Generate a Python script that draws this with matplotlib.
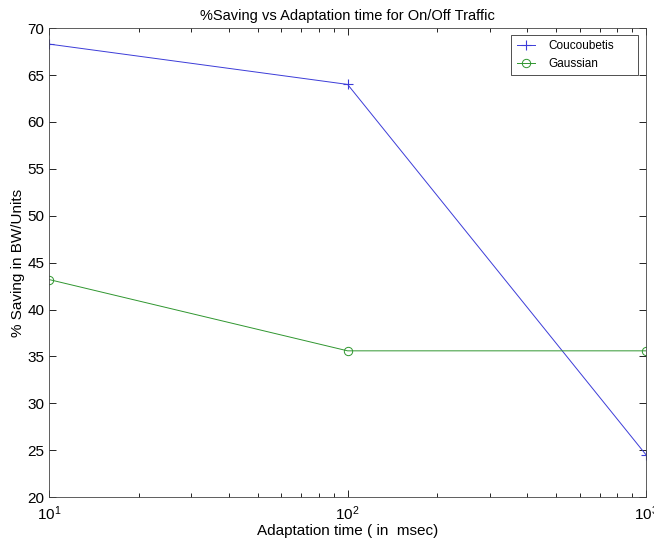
import matplotlib
matplotlib.use("Agg")

import matplotlib.pyplot as plt
from matplotlib.ticker import LogLocator

plt.rcParams["font.family"] = ["Liberation Sans", "DejaVu Sans"]
plt.rcParams["mathtext.fontset"] = "custom"
plt.rcParams["mathtext.rm"] = "Liberation Sans"
plt.rcParams["mathtext.it"] = "Liberation Sans"

# data
adapt_time = [10, 100, 1000]
coucoubetis = [68.3, 64.0, 24.5]
gaussian = [43.2, 35.6, 35.6]

fig = plt.figure(figsize=(6.54, 5.41), dpi=100)
ax = fig.add_axes([0.075, 0.081, 0.913, 0.867])

ax.plot(adapt_time, coucoubetis, color="#3c3cd8", marker="+", markersize=7,
        linewidth=0.7, markeredgewidth=0.8, label="Coucoubetis")
ax.plot(adapt_time, gaussian, color="#2f962f", marker="o", markersize=6,
        linewidth=0.7, markerfacecolor="none", markeredgewidth=0.7, label="Gaussian")

ax.set_xscale("log")
ax.set_xlim(10, 1000)
ax.set_ylim(20, 70)
ax.set_yticks(range(20, 71, 5))
ax.xaxis.set_minor_locator(LogLocator(base=10, subs=range(2, 10)))

ax.tick_params(which="both", direction="in", top=True, right=True, labelsize=11)
ax.tick_params(axis="x", pad=5)
ax.tick_params(which="major", length=5, width=0.6)
ax.tick_params(which="minor", length=3, width=0.6)
for sp in ax.spines.values():
    sp.set_linewidth(0.6)
    sp.set_color("#444444")

ax.set_title("%Saving vs Adaptation time for On/Off Traffic", fontsize=10.5, pad=6)
ax.set_xlabel("Adaptation time ( in  msec)", fontsize=11)
ax.set_ylabel("% Saving in BW/Units", fontsize=11)
ax.xaxis.set_label_coords(0.5, -0.058)
ax.yaxis.set_label_coords(-0.04, 0.5)

# legend box sits a little inside the upper right corner, as in the reference
leg = ax.legend(loc="upper left", bbox_to_anchor=(0.774, 0.0, 0.2127, 0.985),
                mode="expand", borderaxespad=0, fontsize=8.5, frameon=True,
                fancybox=False, handlelength=1.6, handletextpad=1.1,
                borderpad=0.45, labelspacing=0.45)
leg.get_frame().set_edgecolor("black")
leg.get_frame().set_linewidth(0.6)

fig.savefig("out.png", dpi=100)
